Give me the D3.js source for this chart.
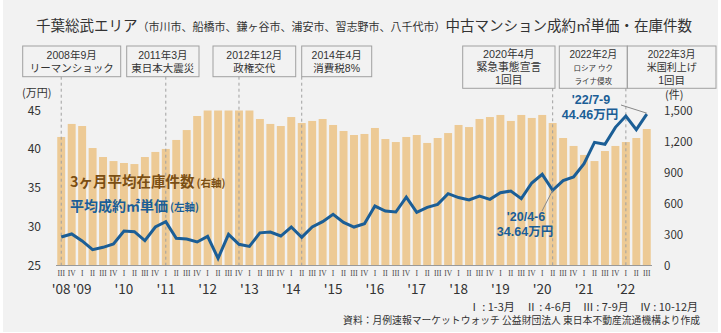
<!DOCTYPE html>
<html><head><meta charset="utf-8">
<script src="https://cdn.jsdelivr.net/npm/d3@7"></script>
<style>
html,body{margin:0;padding:0;background:#fff;}
svg{display:block;font-family:"Noto Sans CJK JP","Noto Sans",sans-serif;}
.tight{font-family:"Liberation Sans","Noto Sans CJK JP",sans-serif;}
</style></head>
<body><svg id="c" width="721" height="333"></svg>
<script>
// ---- data ----
const quarters = ["III","IV",
 "I","II","III","IV","I","II","III","IV","I","II","III","IV","I","II","III","IV",
 "I","II","III","IV","I","II","III","IV","I","II","III","IV","I","II","III","IV",
 "I","II","III","IV","I","II","III","IV","I","II","III","IV","I","II","III","IV",
 "I","II","III","IV","I","II","III"];
const years = [2008,2008,
 2009,2009,2009,2009,2010,2010,2010,2010,2011,2011,2011,2011,2012,2012,2012,2012,
 2013,2013,2013,2013,2014,2014,2014,2014,2015,2015,2015,2015,2016,2016,2016,2016,
 2017,2017,2017,2017,2018,2018,2018,2018,2019,2019,2019,2019,2020,2020,2020,2020,
 2021,2021,2021,2021,2022,2022,2022];
const inventory = [1239,1365,1345,1132,1045,1006,987,977,1045,1094,1123,1210,1306,1442,
 1495,1495,1495,1495,1495,1413,1365,1345,1432,1374,1394,1413,1355,1297,1258,1268,
 1326,1219,1190,1239,1258,1181,1229,1277,1355,1335,1413,1432,1452,1394,1452,1423,
 1452,1374,1229,1152,1065,1006,1103,1152,1190,1229,1316];
const unitPrice = [28.61,29.0,28.1,26.97,27.28,27.71,29.39,29.3,28.14,29.9,30.59,28.44,
 28.35,27.97,28.7,25.86,28.96,27.67,27.4,29.15,29.26,28.74,29.9,28.57,29.9,30.59,31.54,
 30.5,29.9,30.33,32.61,31.97,31.84,33.77,31.8,32.44,32.83,34.2,33.7,33.39,33.9,33.47,
 34.33,34.55,33.56,35.58,36.7,34.64,35.88,36.35,38.08,40.83,40.57,42.76,44.23,42.46,44.46];
const leftTicks = [25,30,35,40,45];
const rightTicks = [0,300,600,900,1200,1500];
const yearLabels = ["'08","'09","'10","'11","'12","'13","'14","'15","'16","'17","'18","'19","'20","'21","'22"];
const events = [
 {idx:0,  lines:["2008年9月","リーマンショック"]},
 {idx:10, lines:["2011年3月","東日本大震災"]},
 {idx:17, lines:["2012年12月","政権交代"]},
 {idx:23, lines:["2014年4月","消費税8%"]},
 {idx:47, lines:["2020年4月","緊急事態宣言","1回目"]},
 {idx:54, lines:["2022年2月","ロシア ウク","ライナ侵攻"]},
 {idx:54, lines:["2022年3月","米国利上げ","1回目"]}
];

// ---- layout ----
const svg = d3.select("#c");
const ids = d3.range(quarters.length);
const x = d3.scaleBand().domain(ids).range([56,652]).paddingInner(0.24).paddingOuter(0.12);
const yL = d3.scaleLinear().domain([25,45]).range([265,110]);
const yR = d3.scaleLinear().domain([0,1500]).range([265,110]);
const cx = i => x(i) + x.bandwidth()/2;
const txt = "#333";
const blue = "#1b5e96";

svg.append("rect").attr("x",3).attr("y",0).attr("width",715).attr("height",332).attr("fill","#f2f2f2");

// title
const t = svg.append("text").attr("x",36).attr("y",31).attr("fill",txt);
t.append("tspan").attr("font-size",14.5).text("千葉総武エリア");
t.append("tspan").attr("font-size",11).text("（市川市、船橋市、鎌ヶ谷市、浦安市、習志野市、八千代市）");
t.append("tspan").attr("font-size",14.5).text("中古マンション成約㎡単価・在庫件数");

// event boxes
const boxes = [
 {x0:22.7,x1:120.7,h:30.7,fs:[10.5,10.5]},
 {x0:126.7,x1:199,h:30.7,fs:[10.5,10.5]},
 {x0:213,x1:295.7,h:30.7,fs:[10.5,10.5]},
 {x0:301.7,x1:371.7,h:30.7,fs:[10.5,10.5]},
 {x0:462.7,x1:555,h:42.3,fs:[10.8,10.8,10.8]},
 {x0:559.3,x1:627.3,h:42.3,fs:[10,7.5,7.5]},
 {x0:627.3,x1:716,h:42.3,fs:[10,10,10.5]}
];
events.forEach((e,k)=>{
  const b = boxes[k];
  svg.append("rect").attr("x",b.x0).attr("y",46).attr("width",b.x1-b.x0).attr("height",b.h)
    .attr("fill","none").attr("stroke","#a0a0a0").attr("stroke-width",1);
  const n = e.lines.length;
  e.lines.forEach((l,j)=>{
    const yy = n===2 ? [58.5,72][j] : [57.5,70.5,83.5][j];
    svg.append("text").attr("class","tight").attr("x",(b.x0+b.x1)/2).attr("y",yy).attr("text-anchor","middle")
      .attr("font-size",b.fs[j]).attr("fill",txt).text(l);
  });
});

// bars
svg.append("g").selectAll("rect").data(inventory).join("rect")
  .attr("x",(d,i)=>x(i)).attr("width",x.bandwidth())
  .attr("y",d=>yR(d)).attr("height",d=>yR(0)-yR(d)).attr("fill","#edca95");

// dashed event lines
events.forEach((e,k)=>{
  if (k===6) return;
  svg.append("line").attr("x1",cx(e.idx)).attr("x2",cx(e.idx)).attr("y1",46+boxes[k].h).attr("y2",265)
    .attr("stroke","#a0a0a0").attr("stroke-width",1).attr("stroke-dasharray","3,3");
});

// axis baseline
svg.append("line").attr("x1",56).attr("x2",652).attr("y1",265.5).attr("y2",265.5)
  .attr("stroke","#999").attr("stroke-width",1.2);

// line
const line = d3.line().x((d,i)=>cx(i)).y(d=>yL(d));
svg.append("path").datum(unitPrice).attr("d",line).attr("fill","none")
  .attr("stroke",blue).attr("stroke-width",3).attr("stroke-linejoin","miter");

// left axis
svg.append("text").attr("x",22).attr("y",97).attr("font-size",11).attr("fill",txt).text("(万円)");
svg.append("g").selectAll("text").data(leftTicks).join("text")
  .attr("x",41).attr("y",d=>yL(d)+4.5).attr("text-anchor","end").attr("font-size",12).attr("fill",txt).text(d=>d);
// right axis
svg.append("text").attr("x",665).attr("y",99).attr("font-size",11).attr("fill",txt).text("(件)");
svg.append("g").selectAll("text").data(rightTicks).join("text")
  .attr("x",664).attr("y",d=>yR(d)+4.5).attr("font-size",11.5).attr("fill",txt).text(d=>d3.format(",")(d));

// quarter numerals
svg.append("g").selectAll("text").data(quarters).join("text")
  .attr("x",(d,i)=>cx(i)).attr("y",275.5).attr("text-anchor","middle")
  .attr("font-family","'Liberation Serif','DejaVu Serif',serif").attr("font-size",7.5).attr("fill","#444").text(d=>d);
// year labels (centered on first quarter of each year shown)
const yearIdx = yearLabels.map((l,k)=> years.indexOf(2008+k));
svg.append("g").selectAll("text").data(yearLabels).join("text")
  .attr("x",(d,k)=>cx(yearIdx[k])).attr("y",294).attr("text-anchor","middle")
  .attr("font-size",13.5).attr("fill",txt).text(d=>d);

// legend labels
const l1 = svg.append("text").attr("x",70).attr("y",186.5).attr("fill","#7b4f14").attr("font-weight","bold");
l1.append("tspan").attr("font-size",14.5).text("3ヶ月平均在庫件数");
l1.append("tspan").attr("font-size",10.5).attr("dx",2).text("(右軸)");
const l2 = svg.append("text").attr("x",70).attr("y",211).attr("fill",blue).attr("font-weight","bold");
l2.append("tspan").attr("font-size",14).text("平均成約㎡単価");
l2.append("tspan").attr("font-size",10.5).attr("dx",2).text("(左軸)");

// callouts
const last = unitPrice.length-1;
svg.append("line").attr("x1",621).attr("y1",105).attr("x2",cx(last)).attr("y2",yL(unitPrice[last])-1)
  .attr("stroke","#888").attr("stroke-width",1);
svg.append("text").attr("class","tight").attr("x",591).attr("y",103.5).attr("text-anchor","middle").attr("font-size",12.5)
  .attr("font-weight","bold").attr("fill",blue).text("'22/7-9");
svg.append("text").attr("class","tight").attr("x",590).attr("y",118.5).attr("text-anchor","middle").attr("font-size",12.5)
  .attr("font-weight","bold").attr("fill",blue).text("44.46万円");
svg.append("line").attr("x1",cx(47)).attr("y1",yL(unitPrice[47])).attr("x2",542).attr("y2",211)
  .attr("stroke","#888").attr("stroke-width",1);
svg.append("text").attr("class","tight").attr("x",526).attr("y",221).attr("text-anchor","middle").attr("font-size",12.5)
  .attr("font-weight","bold").attr("fill",blue).text("'20/4-6");
svg.append("text").attr("class","tight").attr("x",525).attr("y",236).attr("text-anchor","middle").attr("font-size",12.5)
  .attr("font-weight","bold").attr("fill",blue).text("34.64万円");

// notes
svg.append("text").attr("x",698).attr("y",311).attr("text-anchor","end").attr("font-size",11).attr("fill",txt)
  .attr("xml:space","preserve").text("Ⅰ : 1-3月　Ⅱ : 4-6月　Ⅲ : 7-9月　Ⅳ : 10-12月");
svg.append("text").attr("x",700).attr("y",324).attr("text-anchor","end").attr("font-size",9.8).attr("fill",txt)
  .text("資料：月例速報マーケットウォッチ 公益財団法人 東日本不動産流通機構より作成");
</script></body></html>
